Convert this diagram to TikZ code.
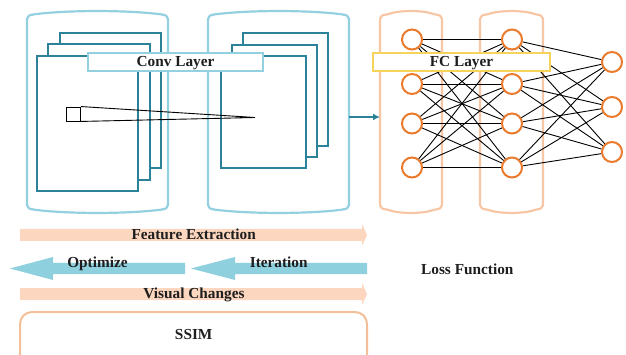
\documentclass[tikz,border=0pt]{standalone}
\usepackage{fontspec}
\setmainfont{Liberation Serif}
\usetikzlibrary{arrows.meta}

\definecolor{tubeblue}{HTML}{93D0E0}
\definecolor{mapteal}{HTML}{2B8299}
\definecolor{neuron}{HTML}{EA7A2C}
\definecolor{tubepeach}{HTML}{F7C7A5}
\definecolor{fcyellow}{HTML}{F6D35A}
\definecolor{bandpeach}{HTML}{FCD6BF}
\definecolor{bandblue}{HTML}{8FD0DF}
\definecolor{ssimedge}{HTML}{F4BE98}
\definecolor{labeltext}{HTML}{1E1E1E}

% rounded tube with slightly bulging top and bottom: x1, x2, ytop, ybottom, style
\newcommand\tube[5]{%
  \draw[#5] (#1,{#4-9}) -- (#1,{#3+9})
    .. controls (#1,{#3+6}) and ({#1+2},{#3+5}) .. ({#1+8},{#3+4.2})
    .. controls ({#1+(#2-#1)*0.3},{#3}) and ({#2-(#2-#1)*0.3},{#3}) .. ({#2-8},{#3+4.2})
    .. controls ({#2-2},{#3+5}) and (#2,{#3+6}) .. (#2,{#3+9})
    -- (#2,{#4-9})
    .. controls (#2,{#4-6}) and ({#2-2},{#4-5}) .. ({#2-8},{#4-4.2})
    .. controls ({#2-(#2-#1)*0.3},{#4}) and ({#1+(#2-#1)*0.3},{#4}) .. ({#1+8},{#4-4.2})
    .. controls ({#1+2},{#4-5}) and (#1,{#4-6}) .. cycle;}

\tikzset{
  txt/.style={font=\fontsize{15.3}{18}\selectfont\bfseries, text=labeltext, anchor=base, inner sep=0pt},
  convtube/.style={draw=tubeblue, line width=2.2pt, fill=white},
  fctube/.style={draw=tubepeach, line width=2.2pt, fill=white},
  fmap/.style={draw=mapteal, line width=2pt, fill=white},
  neuronnode/.style={circle, draw=neuron, line width=2pt, fill=white, minimum size=20pt, inner sep=0pt},
  link/.style={black, line width=0.9pt},
  labelbox/.style={rectangle, line width=2pt, fill=white, inner sep=0pt, minimum height=18pt,
    text height=10.5pt, text depth=2pt, font=\fontsize{15.3}{18}\selectfont\bfseries, text=labeltext},
  hidden/.style={rectangle, inner sep=0pt, draw=none},
}

\begin{document}
\begin{tikzpicture}[x=1pt, y=-1pt]
\useasboundingbox (0,0) rectangle (626,355);
\clip (0,0) rectangle (626,355);

% convolution stages
\tube{27}{168}{10}{214}{convtube}
\tube{208}{349}{10}{214}{convtube}
\node[hidden, minimum width=141pt, minimum height=200pt] (stageA) at (97.5,112.5) {};
\node[hidden, minimum width=141pt, minimum height=200pt] (stageB) at (278.5,112.5) {};

% stacked feature maps, back to front
\draw[fmap] (60,33) rectangle (161,168);
\draw[fmap] (48,44) rectangle (150,180);
\draw[fmap] (37,56) rectangle (138,191);
\draw[fmap] (243,33) rectangle (328,146);
\draw[fmap] (232,45) rectangle (317,157);
\draw[fmap] (221,56) rectangle (306,168);

% receptive field projected onto the next map
\node[hidden, draw=black, line width=0.9pt, minimum width=14pt, minimum height=14pt] (patch) at (73.5,114) {};
\coordinate (apex) at (255,117.5);
\draw[link] (patch.north east) -- (apex) -- (patch.south east);

% fully connected stages
\tube{380}{442}{10}{214}{fctube}
\tube{480}{543}{10}{214}{fctube}

\foreach \i/\y in {1/39.5, 2/84, 3/123.5, 4/167.5} {
  \node[neuronnode] (a\i) at (412,\y) {};
  \node[neuronnode] (b\i) at (512,\y) {};
}
\foreach \i/\y in {1/62, 2/107, 3/152} {
  \node[neuronnode] (c\i) at (612,\y) {};
}
\foreach \i in {1,...,4} {
  \foreach \j in {1,...,4} { \draw[link] (a\i) -- (b\j); }
  \foreach \j in {1,...,3} { \draw[link] (b\i) -- (c\j); }
}

% stage connector
\coordinate (fcin) at (380,117);
\draw[mapteal, line width=1.8pt, -{Latex[length=7pt,width=7pt]}] (stageB.east |- fcin) -- (fcin);

% layer labels
\node[labelbox, draw=tubeblue, minimum width=175pt] (convlbl) at (175.5,62) {Conv Layer};
\node[labelbox, draw=fcyellow, minimum width=177pt] (fclbl) at (461.5,62) {FC Layer};

% process bands
\fill[bandpeach] (20,229) -- (362,229) -- (362,224) -- (367,235) -- (362,246) -- (362,241) -- (20,241) -- cycle;
\fill[bandpeach] (20,288) -- (362,288) -- (362,283) -- (367,294) -- (362,305) -- (362,300) -- (20,300) -- cycle;
\fill[bandblue] (367,263) -- (235,263) -- (235,257) -- (191,268.5) -- (235,280) -- (235,274) -- (367,274) -- cycle;
\fill[bandblue] (185,263) -- (53,263) -- (53,257) -- (10,268.5) -- (53,280) -- (53,274) -- (185,274) -- cycle;

\node[txt] (feat) at (193.7,239.3) {Feature Extraction};
\node[txt] (opt) at (97.5,268) {Optimize};
\node[txt] (iter) at (278.7,268) {Iteration};
\node[txt] (vis) at (194,298.3) {Visual Changes};
\node[txt] (loss) at (467.3,274) {Loss Function};

% similarity measure
\draw[ssimedge, line width=2pt, rounded corners=12pt] (20,312) rectangle (367,375);
\node[txt] (ssim) at (193.7,339) {SSIM};
\end{tikzpicture}
\end{document}
